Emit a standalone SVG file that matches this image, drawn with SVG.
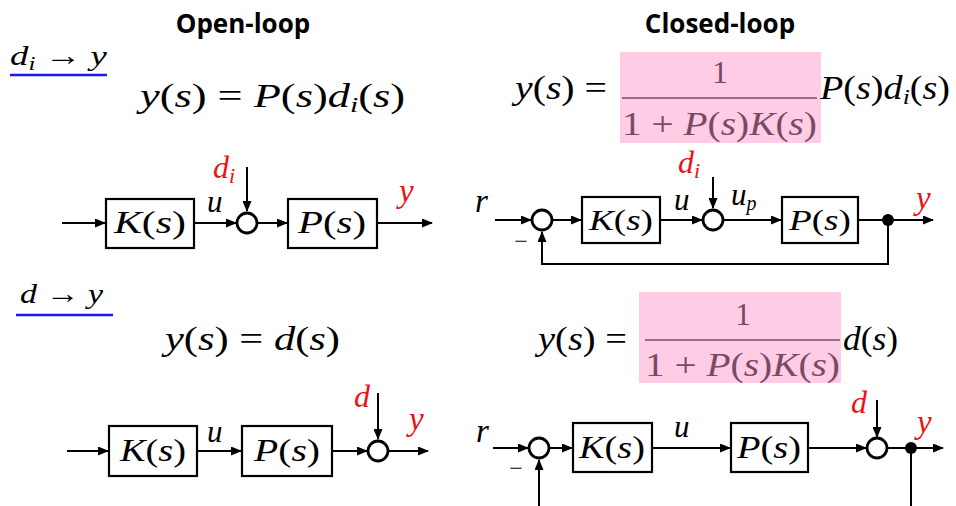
<svg xmlns="http://www.w3.org/2000/svg" width="956" height="506" viewBox="0 0 956 506">
<defs>
<marker id="ah" markerUnits="userSpaceOnUse" markerWidth="11" markerHeight="9" refX="10" refY="4.5" orient="auto">
<path d="M0,0 L11,4.5 L0,9 z" fill="#000"/>
</marker>
<style>
.m{font-family:"Liberation Serif","Times New Roman",serif;fill:#000}
.i{font-style:italic}
.red{fill:#ee1111}
.mv{fill:#7a4a64}
.title{font-family:"Open Sans","Liberation Sans",sans-serif;font-weight:bold;font-size:26px;fill:#000}
.box{fill:#fff;stroke:#000;stroke-width:2.2}
.sum{fill:#fff;stroke:#000;stroke-width:2.8}
.wire{fill:none;stroke:#000;stroke-width:2}
.arr{fill:none;stroke:#000;stroke-width:2;marker-end:url(#ah)}
.pink{fill:#ffcce6}
.ul{stroke:#1a1aee;stroke-width:2.5}
</style>
</defs>
<rect width="956" height="506" fill="#fff"/>

<!-- titles -->
<g id="titles">
<text class="title" x="243" y="33" text-anchor="middle">Open-loop</text>
<text class="title" x="720" y="33" text-anchor="middle">Closed-loop</text>
</g>

<!-- section labels -->
<g id="label-di-y">
<text class="m" x="10" y="65" font-size="28" textLength="97" lengthAdjust="spacingAndGlyphs"><tspan class="i">d</tspan><tspan class="i" font-size="19" dy="5">i</tspan><tspan dy="-5"> → </tspan><tspan class="i">y</tspan></text>
<line class="ul" x1="10" y1="75" x2="107" y2="75"/>
</g>
<g id="label-d-y">
<text class="m" x="20" y="303" font-size="28" textLength="83" lengthAdjust="spacingAndGlyphs"><tspan class="i">d</tspan> → <tspan class="i">y</tspan></text>
<line class="ul" x1="16" y1="315" x2="113" y2="315"/>
</g>

<!-- formulas -->
<g id="formula-ol-1">
<text class="m" x="140" y="107" font-size="33" textLength="265" lengthAdjust="spacingAndGlyphs"><tspan class="i">y</tspan>(<tspan class="i">s</tspan>) = <tspan class="i">P</tspan>(<tspan class="i">s</tspan>)<tspan class="i">d</tspan><tspan class="i" font-size="22" dy="5">i</tspan><tspan dy="-5">(</tspan><tspan class="i">s</tspan>)</text>
</g>
<g id="formula-cl-1">
<rect class="pink" x="620" y="52" width="201" height="91"/>
<text class="m" x="515" y="99" font-size="33" textLength="92" lengthAdjust="spacingAndGlyphs"><tspan class="i">y</tspan>(<tspan class="i">s</tspan>) =</text>
<text class="m mv" x="720" y="83" font-size="32" text-anchor="middle">1</text>
<line x1="622" y1="98" x2="817" y2="98" stroke="#7a4a64" stroke-width="1.6"/>
<text class="m mv" x="622" y="135" font-size="33" textLength="195" lengthAdjust="spacingAndGlyphs">1 + <tspan class="i">P</tspan>(<tspan class="i">s</tspan>)<tspan class="i">K</tspan>(<tspan class="i">s</tspan>)</text>
<text class="m" x="820" y="99" font-size="33" textLength="130" lengthAdjust="spacingAndGlyphs"><tspan class="i">P</tspan>(<tspan class="i">s</tspan>)<tspan class="i">d</tspan><tspan class="i" font-size="22" dy="5">i</tspan><tspan dy="-5">(</tspan><tspan class="i">s</tspan>)</text>
</g>
<g id="formula-ol-2">
<text class="m" x="165" y="350" font-size="33" textLength="175" lengthAdjust="spacingAndGlyphs"><tspan class="i">y</tspan>(<tspan class="i">s</tspan>) = <tspan class="i">d</tspan>(<tspan class="i">s</tspan>)</text>
</g>
<g id="formula-cl-2">
<rect class="pink" x="639" y="292" width="202" height="91"/>
<text class="m" x="538" y="350" font-size="33" textLength="89" lengthAdjust="spacingAndGlyphs"><tspan class="i">y</tspan>(<tspan class="i">s</tspan>) =</text>
<text class="m mv" x="743" y="325" font-size="32" text-anchor="middle">1</text>
<line x1="645" y1="340" x2="840" y2="340" stroke="#7a4a64" stroke-width="1.6"/>
<text class="m mv" x="645" y="376" font-size="33" textLength="195" lengthAdjust="spacingAndGlyphs">1 + <tspan class="i">P</tspan>(<tspan class="i">s</tspan>)<tspan class="i">K</tspan>(<tspan class="i">s</tspan>)</text>
<text class="m" x="843" y="350" font-size="33" textLength="55" lengthAdjust="spacingAndGlyphs"><tspan class="i">d</tspan>(<tspan class="i">s</tspan>)</text>
</g>

<!-- connectors -->
<g id="connectors">
<!-- open loop 1 -->
<path class="arr" d="M62,223 H105"/>
<path class="arr" d="M194,223 H236"/>
<path class="arr" d="M247,167 V211"/>
<path class="arr" d="M258,223 H287"/>
<path class="arr" d="M377,223 H432"/>
<!-- open loop 2 -->
<path class="arr" d="M67,451 H108"/>
<path class="arr" d="M197,451 H241"/>
<path class="arr" d="M332,451 H367"/>
<path class="arr" d="M378,393 V439"/>
<path class="arr" d="M389,451 H428"/>
<!-- closed loop 1 -->
<path class="arr" d="M495,220 H531"/>
<path class="arr" d="M553,220 H581"/>
<path class="arr" d="M660,220 H702"/>
<path class="arr" d="M713,177 V208"/>
<path class="arr" d="M724,220 H781"/>
<path class="arr" d="M858,220 H933"/>
<path class="arr" d="M888,220 V264 H542 V232"/>
<!-- closed loop 2 -->
<path class="arr" d="M493,448 H528"/>
<path class="arr" d="M550,448 H572"/>
<path class="arr" d="M652,448 H730"/>
<path class="arr" d="M808,448 H866"/>
<path class="arr" d="M877,400 V437"/>
<path class="arr" d="M888,448 H943"/>
<path class="wire" d="M911,448 V506"/>
<path class="arr" d="M539,506 V460"/>
</g>

<!-- open loop 1 nodes -->
<g id="ol1-K">
<rect class="box" x="106" y="199" width="88" height="49"/>
<text class="m" x="150" y="233" font-size="32" text-anchor="middle" textLength="72" lengthAdjust="spacingAndGlyphs"><tspan class="i">K</tspan>(<tspan class="i">s</tspan>)</text>
</g>
<g id="ol1-sum"><circle class="sum" cx="247" cy="223" r="10"/></g>
<g id="ol1-P">
<rect class="box" x="288" y="199" width="89" height="49"/>
<text class="m" x="332" y="233" font-size="32" text-anchor="middle" textLength="68" lengthAdjust="spacingAndGlyphs"><tspan class="i">P</tspan>(<tspan class="i">s</tspan>)</text>
</g>
<g id="ol1-labels">
<text class="m i" x="207" y="212" font-size="31">u</text>
<text class="m i red" x="213" y="178" font-size="32">d<tspan font-size="22" dy="5">i</tspan></text>
<text class="m i red" x="399" y="202" font-size="33">y</text>
</g>

<!-- open loop 2 nodes -->
<g id="ol2-K">
<rect class="box" x="109" y="426" width="88" height="50"/>
<text class="m" x="153" y="461" font-size="32" text-anchor="middle" textLength="66" lengthAdjust="spacingAndGlyphs"><tspan class="i">K</tspan>(<tspan class="i">s</tspan>)</text>
</g>
<g id="ol2-P">
<rect class="box" x="242" y="426" width="90" height="50"/>
<text class="m" x="287" y="461" font-size="32" text-anchor="middle" textLength="66" lengthAdjust="spacingAndGlyphs"><tspan class="i">P</tspan>(<tspan class="i">s</tspan>)</text>
</g>
<g id="ol2-sum"><circle class="sum" cx="378" cy="451" r="10"/></g>
<g id="ol2-labels">
<text class="m i" x="207" y="442" font-size="31">u</text>
<text class="m i red" x="354" y="407" font-size="32">d</text>
<text class="m i red" x="409" y="430" font-size="33">y</text>
</g>

<!-- closed loop 1 nodes -->
<g id="cl1-sum1"><circle class="sum" cx="542" cy="220" r="10"/></g>
<g id="cl1-K">
<rect class="box" x="582" y="197" width="78" height="46"/>
<text class="m" x="621" y="230" font-size="30" text-anchor="middle" textLength="64" lengthAdjust="spacingAndGlyphs"><tspan class="i">K</tspan>(<tspan class="i">s</tspan>)</text>
</g>
<g id="cl1-sum2"><circle class="sum" cx="713" cy="220" r="10"/></g>
<g id="cl1-P">
<rect class="box" x="782" y="197" width="76" height="46"/>
<text class="m" x="820" y="230" font-size="30" text-anchor="middle" textLength="62" lengthAdjust="spacingAndGlyphs"><tspan class="i">P</tspan>(<tspan class="i">s</tspan>)</text>
</g>
<g id="cl1-dot"><circle cx="888" cy="220" r="6" fill="#000"/></g>
<g id="cl1-labels">
<text class="m i" x="475" y="212" font-size="33">r</text>
<text class="m" x="521" y="249" font-size="24" text-anchor="middle">−</text>
<text class="m i" x="674" y="210" font-size="31">u</text>
<text class="m i red" x="678" y="173" font-size="32">d<tspan font-size="22" dy="5">i</tspan></text>
<text class="m i" x="731" y="205" font-size="31">u<tspan font-size="20" dy="5">p</tspan></text>
<text class="m i red" x="916" y="209" font-size="33">y</text>
</g>

<!-- closed loop 2 nodes -->
<g id="cl2-sum1"><circle class="sum" cx="539" cy="448" r="10"/></g>
<g id="cl2-K">
<rect class="box" x="573" y="423" width="79" height="49"/>
<text class="m" x="612" y="458" font-size="32" text-anchor="middle" textLength="66" lengthAdjust="spacingAndGlyphs"><tspan class="i">K</tspan>(<tspan class="i">s</tspan>)</text>
</g>
<g id="cl2-P">
<rect class="box" x="731" y="423" width="77" height="49"/>
<text class="m" x="769" y="458" font-size="32" text-anchor="middle" textLength="64" lengthAdjust="spacingAndGlyphs"><tspan class="i">P</tspan>(<tspan class="i">s</tspan>)</text>
</g>
<g id="cl2-sum2"><circle class="sum" cx="877" cy="448" r="10"/></g>
<g id="cl2-dot"><circle cx="911" cy="448" r="6" fill="#000"/></g>
<g id="cl2-labels">
<text class="m i" x="476" y="442" font-size="33">r</text>
<text class="m" x="516" y="476" font-size="24" text-anchor="middle">−</text>
<text class="m i" x="674" y="437" font-size="31">u</text>
<text class="m i red" x="851" y="413" font-size="32">d</text>
<text class="m i red" x="917" y="433" font-size="33">y</text>
</g>
</svg>
